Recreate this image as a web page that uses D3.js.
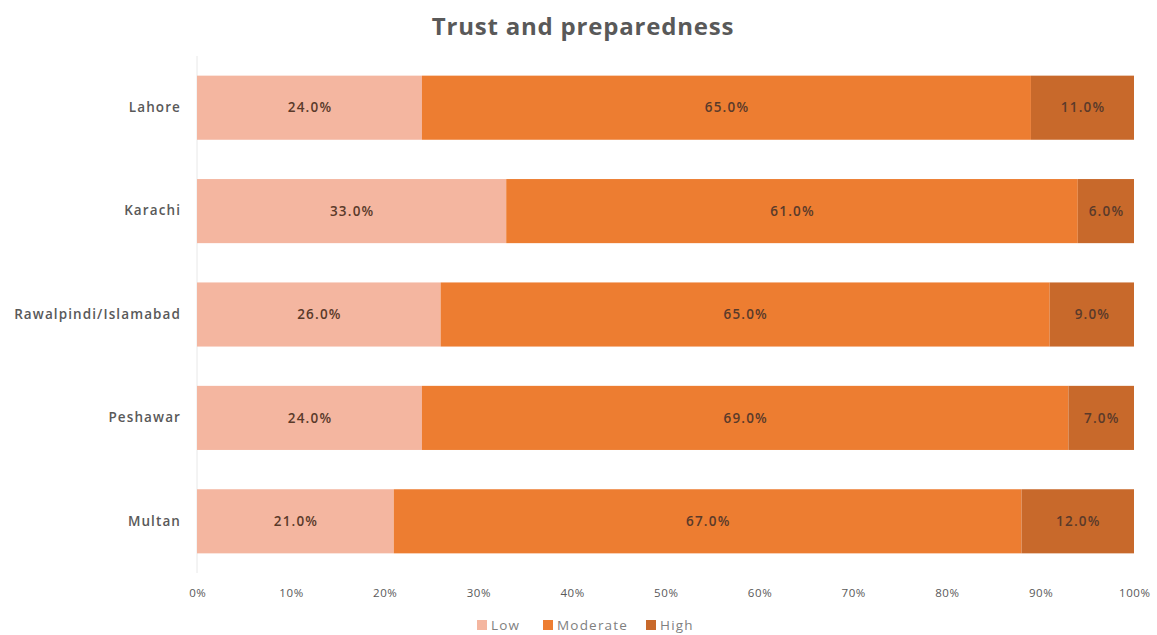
<!DOCTYPE html>
<html>
<head>
<meta charset="utf-8">
<script src="https://cdn.jsdelivr.net/npm/d3@7"></script>
<style>
  html, body { margin: 0; padding: 0; background: #fff; }
  svg { display: block; font-family: "Open Sans", "Liberation Sans", sans-serif; }
</style>
</head>
<body>
<svg id="chart" width="1157" height="635"></svg>
<script>
// Share of respondents by trust/preparedness level, per city
const cities = ["Lahore", "Karachi", "Rawalpindi/Islamabad", "Peshawar", "Multan"];
const levels = ["Low", "Moderate", "High"];
const low = [24, 33, 26, 24, 21];
const moderate = [65, 61, 65, 69, 67];
const high = [11, 6, 9, 7, 12];
const xTicks = [0, 10, 20, 30, 40, 50, 60, 70, 80, 90, 100];
const colors = ["#F4B6A0", "#ED7D31", "#C8692B"];

const rows = cities.map((c, i) => ({ city: c, Low: low[i], Moderate: moderate[i], High: high[i] }));

const svg = d3.select("#chart");
const margin = { top: 56, right: 23, bottom: 62, left: 197 };
const W = 1157, H = 635;

const x = d3.scaleLinear().domain([0, 100]).range([margin.left, W - margin.right]);
const y = d3.scaleBand().domain(cities).range([margin.top, H - margin.bottom]).paddingInner(0.38).paddingOuter(0.19);
const color = d3.scaleOrdinal().domain(levels).range(colors);

// Title
svg.append("text")
  .attr("x", 583).attr("y", 35)
  .attr("text-anchor", "middle")
  .attr("font-size", 24).attr("font-weight", 700)
  .attr("letter-spacing", 0.8)
  .attr("fill", "#595959")
  .text("Trust and preparedness");

// Vertical axis line at 0%
svg.append("line")
  .attr("x1", x(0)).attr("x2", x(0))
  .attr("y1", margin.top).attr("y2", H - margin.bottom)
  .attr("stroke", "#e8e8e8");

const stack = d3.stack().keys(levels)(rows);

const layer = svg.append("g").selectAll("g").data(stack).join("g")
  .attr("fill", d => color(d.key));

layer.selectAll("rect").data(d => d).join("rect")
  .attr("x", d => x(d[0]))
  .attr("y", d => y(d.data.city))
  .attr("width", d => x(d[1]) - x(d[0]))
  .attr("height", y.bandwidth());

// Segment value labels
svg.append("g").selectAll("g").data(stack).join("g")
  .selectAll("text").data(d => d).join("text")
  .attr("x", d => (x(d[0]) + x(d[1])) / 2 + 0.6)
  .attr("y", d => y(d.data.city) + y.bandwidth() / 2)
  .attr("dy", "0.35em")
  .attr("text-anchor", "middle")
  .attr("font-size", 13.5).attr("font-weight", 600)
  .attr("letter-spacing", 1.2)
  .attr("fill", "#5a3a2a")
  .text(d => (d[1] - d[0]).toFixed(1) + "%");

// Category axis
const yAxis = svg.append("g")
  .attr("transform", `translate(${x(0) - 16},0)`)
  .call(d3.axisLeft(y).tickSize(0).tickPadding(0));
yAxis.select(".domain").remove();
yAxis.selectAll("text")
  .attr("font-size", 13.5).attr("font-weight", 600)
  .attr("letter-spacing", 1.1)
  .attr("fill", "#595959")
  .attr("font-family", "Open Sans, sans-serif");

// Percentage axis
const xAxis = svg.append("g")
  .attr("transform", `translate(0,${H - margin.bottom})`)
  .call(d3.axisBottom(x).tickValues(xTicks).tickFormat(d => d + "%").tickSize(0).tickPadding(16));
xAxis.select(".domain").remove();
xAxis.selectAll("text")
  .attr("font-size", 11.5)
  .attr("letter-spacing", 0.6)
  .attr("dx", 0.3)
  .attr("fill", "#595959")
  .attr("font-family", "Open Sans, sans-serif");

// Legend
const legendItems = [
  { key: "Low", x: 491 },
  { key: "Moderate", x: 557 },
  { key: "High", x: 660 }
];
const lg = svg.append("g").selectAll("g").data(legendItems).join("g")
  .attr("transform", d => `translate(${d.x},625)`);
lg.append("rect")
  .attr("x", -14).attr("y", -5)
  .attr("width", 10).attr("height", 10)
  .attr("fill", d => color(d.key));
lg.append("text")
  .attr("x", 0).attr("dy", "0.35em")
  .attr("font-size", 13.5)
  .attr("letter-spacing", 1.2)
  .attr("fill", "#7f7f7f")
  .text(d => d.key);
</script>
</body>
</html>
